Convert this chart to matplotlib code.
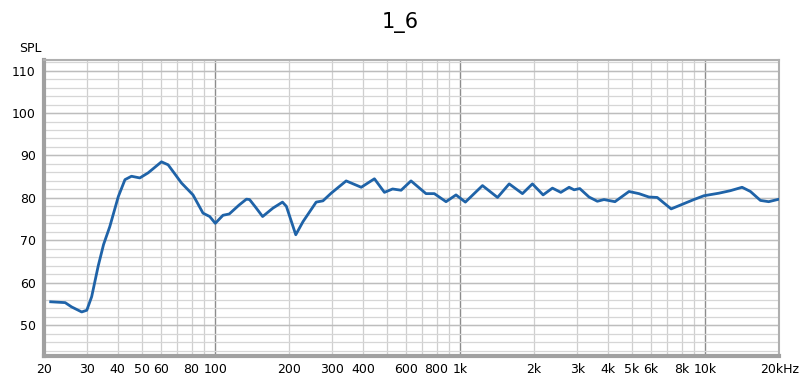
import numpy as np
import matplotlib.pyplot as plt
from matplotlib.ticker import FixedLocator, NullFormatter

# frequency response
freq = [21.3, 24.4, 25.9, 28.5, 29.9, 31.3, 33.3, 35.0, 37.1, 40.2, 42.8, 45.5, 49.2,
        53.2, 60.3, 64.2, 72.8, 81.1, 89.1, 94.9, 100, 107.5, 114, 125, 134, 138,
        146, 156, 172, 188, 195, 213, 228, 258, 275, 297, 342, 394, 446, 490, 529,
        573, 629, 724, 783, 874, 960, 1048, 1231, 1418, 1582, 1792, 1968,
        2176, 2375, 2570, 2778, 2911, 3070, 3350, 3622, 3856, 4274, 4876,
        5354, 5880, 6356, 6768, 7246, 8298, 8970, 9852, 11340, 12650, 14112,
        15266, 16766, 18120, 20000]
spl = [55.5, 55.3, 54.3, 53.1, 53.5, 56.7, 64.0, 69.0, 73.2, 80.3, 84.3, 85.1, 84.7,
       85.9, 88.5, 87.8, 83.5, 80.7, 76.4, 75.6, 74.0, 75.9, 76.2, 78.3, 79.7, 79.6,
       77.8, 75.6, 77.6, 79.0, 78.0, 71.3, 74.4, 79.0, 79.3, 81.1, 84.0, 82.5,
       84.5, 81.3, 82.1, 81.8, 84.0, 81.0, 81.0, 79.1, 80.7, 79.0, 82.9, 80.1, 83.3,
       81.0, 83.3, 80.7, 82.3, 81.3, 82.5, 81.9, 82.2, 80.2, 79.2, 79.6, 79.1,
       81.5, 81.0, 80.2, 80.1, 78.8, 77.4, 78.8, 79.6, 80.5, 81.1, 81.7, 82.5,
       81.5, 79.4, 79.1, 79.7]

xticks = [20, 30, 40, 50, 60, 80, 100, 200, 300, 400, 600, 800, 1000,
          2000, 3000, 4000, 5000, 6000, 8000, 10000, 20000]
xticklabels = ['20', '30', '40', '50', '60', '80', '100', '200', '300', '400',
               '600', '800', '1k', '2k', '3k', '4k', '5k', '6k', '8k', '10k',
               '20kHz']
yticks = [50, 60, 70, 80, 90, 100, 110]

fig = plt.figure(figsize=(8, 3.8), dpi=100)
ax = fig.add_axes([0.055, 0.063, 0.919, 0.779])

ax.set_xscale('log')
ax.set_xlim(20, 20000)
ax.set_ylim(42.7, 112.5)

# grid lines
minor_f = [m * d for d in (10, 100, 1000, 10000) for m in range(2, 10)]
minor_f = [f for f in minor_f if 20 <= f <= 20000]
for f in minor_f:
    ax.axvline(f, color='#cfcfcf', lw=0.9, zorder=0)
for f in (100, 1000, 10000):
    ax.axvline(f, color='#8c8c8c', lw=1.0, zorder=0)
for y in np.arange(44, 113, 2):
    ax.axhline(y, color='#d6d6d6', lw=0.9, zorder=0)
for y in yticks:
    ax.axhline(y, color='#bdbdbd', lw=1.0, zorder=0)

ax.plot(freq, spl, color='#1f63a8', lw=2.0, zorder=3, solid_joinstyle='round')

ax.xaxis.set_major_locator(FixedLocator(xticks))
ax.set_xticklabels(xticklabels)
ax.xaxis.set_minor_formatter(NullFormatter())
ax.set_yticks(yticks)
ax.tick_params(axis='both', which='both', length=0, labelsize=9, pad=6)
ax.tick_params(axis='x', pad=5)

for side in ('top', 'right'):
    ax.spines[side].set_color('#b0b0b0')
    ax.spines[side].set_linewidth(1.5)
for side in ('left', 'bottom'):
    ax.spines[side].set_color('#a0a0a0')
    ax.spines[side].set_linewidth(3)

fig.text(0.5, 0.94, '1_6', ha='center', va='center', fontsize=15)
fig.text(0.038, 0.873, 'SPL', ha='center', va='center', fontsize=9)

fig.savefig('out.png', dpi=100)
